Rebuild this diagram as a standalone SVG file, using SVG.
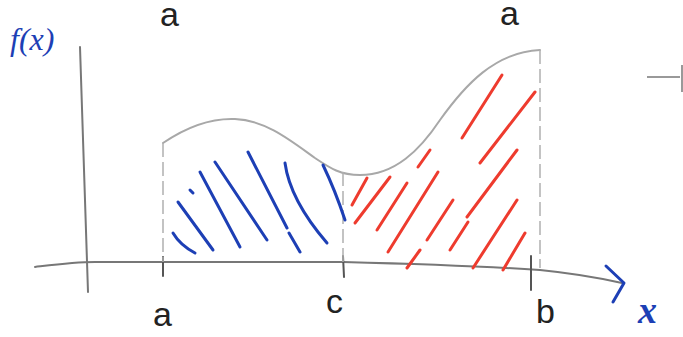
<svg xmlns="http://www.w3.org/2000/svg" width="683" height="337" viewBox="0 0 683 337">
<style>
.axis{fill:none;stroke:#777;stroke-width:2;stroke-linecap:round}
.curve{fill:none;stroke:#a8a8a8;stroke-width:2;stroke-linecap:round}
.guide{fill:none;stroke:#b0b0b0;stroke-width:1.5;stroke-dasharray:14 5}
.tick{fill:none;stroke:#555;stroke-width:2;stroke-linecap:round}
.blue{fill:none;stroke:#1d3fb5;stroke-width:3;stroke-linecap:round}
.red{fill:none;stroke:#ee3b2e;stroke-width:3;stroke-linecap:round}
.lbl{font-family:"Liberation Sans",Arial,sans-serif;font-size:34px;fill:#222}
.blbl{font-family:"Liberation Serif","Times New Roman",serif;font-style:italic;fill:#1d3fb5}
</style>
<rect width="683" height="337" fill="#fff"/>
<g id="axes">
<path class="axis" d="M80,47 L88,292"/>
<path class="axis" d="M35,267 C60,264 75,262 95,262 L343,262 C420,264 480,266 540,270 C570,273 600,278 622,283"/>
<path d="M606,266 L624,283 L613,302" fill="none" stroke="#1d3fb5" stroke-width="3" stroke-linecap="round" stroke-linejoin="round"/>
<path class="tick" d="M163,257 L163,276 M343,256 L344,277 M531,256 L531,290"/>
<path d="M647,77 L680,77 M682,65 L682,92" fill="none" stroke="#999" stroke-width="2"/>
</g>
<g id="curve">
<path class="curve" d="M163,143 C185,128 210,118 235,119 C265,120 290,140 315,158 C330,168 340,175 360,175 C395,175 420,150 440,120 C465,85 495,52 540,50"/>
<path class="guide" d="M163,143 L163,262 M343,172 L343,262 M540,50 L540,268"/>
</g>
<g id="blue-hatch">
<path class="blue" d="M173,233 Q180,245 195,253"/>
<path class="blue" d="M178,202 L213,250 M190,190 L193,193"/>
<path class="blue" d="M200,172 L240,247"/>
<path class="blue" d="M215,162 L267,240"/>
<path class="blue" d="M248,152 L287,228 M289,233 L300,252"/>
<path class="blue" d="M285,163 Q290,200 327,243"/>
<path class="blue" d="M323,165 Q335,190 345,220"/>
</g>
<g id="red-hatch">
<path class="red" d="M352,205 L367,178"/>
<path class="red" d="M355,223 L390,177"/>
<path class="red" d="M377,230 L407,183"/>
<path class="red" d="M388,252 L438,172"/>
<path class="red" d="M418,167 L430,150"/>
<path class="red" d="M407,268 L420,250"/>
<path class="red" d="M427,240 L453,200"/>
<path class="red" d="M450,250 L468,222"/>
<path class="red" d="M462,138 L502,75"/>
<path class="red" d="M480,163 L535,92"/>
<path class="red" d="M467,217 L517,150"/>
<path class="red" d="M473,268 L517,200"/>
<path class="red" d="M503,270 L525,233"/>
</g>
<g id="labels">
<text class="lbl" x="160" y="26" font-size="22">a</text>
<text class="lbl" x="500" y="25" font-size="22">a</text>
<text class="lbl" x="153" y="326">a</text>
<text class="lbl" x="326" y="313">c</text>
<text class="lbl" x="536" y="323">b</text>
<text class="blbl" x="10" y="50" font-size="32">f(x)</text>
<text class="blbl" x="638" y="323" font-size="38" font-weight="bold">x</text>
</g>
</svg>
